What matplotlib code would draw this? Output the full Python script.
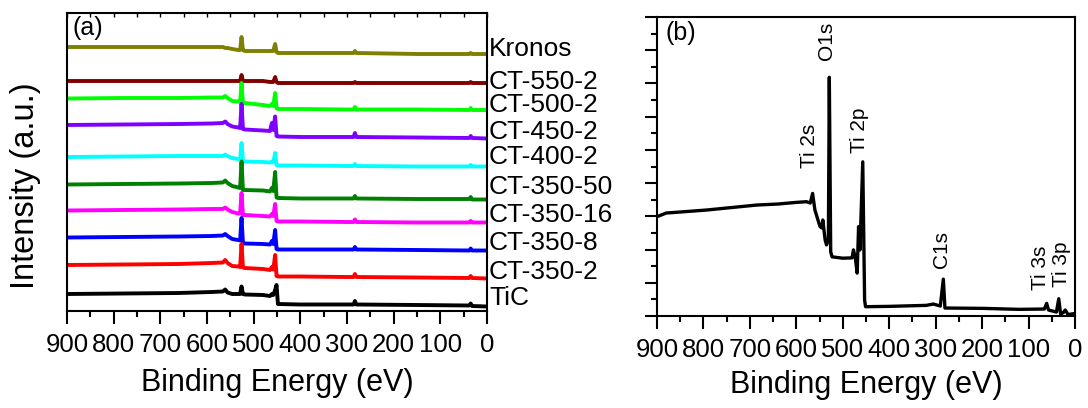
import matplotlib
matplotlib.use('Agg')
import matplotlib.pyplot as plt
from matplotlib.ticker import MultipleLocator

plt.rcParams['font.family'] = ['Liberation Sans', 'DejaVu Sans']

# ---- panel (a): stacked survey spectra (arbitrary units)
energy_a = [900, 780, 660, 590, 566, 561, 556, 546, 533, 529, 526, 523, 519, 480, 465,
            461, 458, 454, 451, 448, 400, 300, 286, 283, 280, 150, 38, 35, 32, 0]

kronos = [264, 264, 264, 264, 264, 263, 263, 262, 261, 261, 274, 261, 260, 260, 260,
          260, 260, 267, 259, 258, 258, 258, 258, 260, 258, 257, 257, 258, 257, 257]
ct_550_2 = [230, 230, 230, 230, 230, 230, 230, 230, 230, 230, 236, 230, 230, 230, 229,
            229, 229, 234, 229, 228, 228, 228, 228, 229, 228, 228, 228, 229, 228, 228]
ct_500_2 = [212.5, 213, 213, 213.5, 213.5, 215, 213, 210, 209.5, 209, 228, 208, 208, 206, 205,
            207, 205, 218, 203, 202, 202, 201.5, 201.5, 204, 201.5, 201.5, 201, 203, 201, 201]
ct_450_2 = [186, 186.5, 187, 187.5, 188, 189.5, 187, 184.5, 183.5, 183, 207, 182, 181.5, 180.5, 180,
            188, 181, 194.5, 175, 174.5, 174, 174, 174, 178, 174, 173.5, 173, 175, 173, 172.5]
ct_400_2 = [154, 154.5, 155, 155, 155, 156.5, 155, 153, 152, 152, 168, 150, 149.5, 149, 148.5,
            149.5, 148.5, 158, 146, 145.5, 145.5, 145, 145, 147, 145, 144.5, 144.5, 146, 144.5, 144.5]
ct_350_50 = [126.5, 127, 127.5, 128, 128.5, 130.5, 128, 125, 123.5, 123, 149.5, 121, 121, 120.5, 119.5,
             123, 120, 139, 113.5, 113, 112.5, 112.5, 112.5, 115, 112.5, 112, 112, 114, 111.5, 111.5]
ct_350_16 = [100.5, 101, 101.5, 102, 102, 103.5, 101.5, 99, 97.5, 97.5, 118, 96, 96, 95, 94.5,
             97, 95, 107, 90, 89.5, 89.5, 89, 89, 91.5, 89, 88.5, 88.5, 90, 88.5, 88.5]
ct_350_8 = [73.5, 74, 74.5, 75, 75.5, 77, 75, 72, 71, 70.5, 93, 68, 67.5, 67, 66.5,
            70, 67, 81, 62, 61.5, 61.5, 61.5, 61.5, 64, 61.5, 61, 60.5, 62.5, 60.5, 60.5]
ct_350_2 = [46, 46.5, 47, 48, 48.5, 51, 48, 45, 44.5, 44, 67, 43.5, 43, 42, 41,
            44, 41.5, 56, 35, 34.5, 34.5, 34, 34, 37, 34, 33.5, 33, 35, 33, 32.5]
tic = [17, 17.5, 18, 19, 19.5, 21.5, 18.5, 17, 17, 17, 24.5, 17, 16.5, 16, 15,
       17, 16, 21, 26, 7, 6.5, 6.5, 6.5, 10, 6.5, 6, 5.5, 7.5, 5, 4.5]

sample_names = ['Kronos', 'CT-550-2', 'CT-500-2', 'CT-450-2', 'CT-400-2',
                'CT-350-50', 'CT-350-16', 'CT-350-8', 'CT-350-2', 'TiC']
sample_curves = [kronos, ct_550_2, ct_500_2, ct_450_2, ct_400_2,
                 ct_350_50, ct_350_16, ct_350_8, ct_350_2, tic]
sample_colors = ['#808000', '#800000', '#00ff00', '#8000ff', '#00ffff',
                 '#008000', '#ff00ff', '#0000ff', '#ff0000', '#000000']
label_y = [262, 229, 206, 179, 154, 124, 96, 68, 39, 13]

# ---- panel (b): single survey spectrum (counts)
energy_b = [900, 880, 850, 793, 750, 685, 640, 600, 578, 570, 565, 560, 549, 545, 543,
            538, 535, 531, 529, 526, 523, 500, 480, 477, 473, 469, 466, 463, 457, 453,
            451, 400, 320, 305, 290, 283.5, 280, 200, 120, 66, 61, 57, 40, 35, 31,
            25, 21, 15, 0]
counts_b = [2990, 3100, 3130, 3190, 3250, 3340, 3370, 3420, 3440, 3400, 3690, 3190, 2690, 2650, 2890,
            2290, 2140, 2290, 7185, 1930, 1780, 1740, 1750, 1990, 1750, 1290, 2690, 1990, 4640, 480,
            280, 290, 320, 360, 300, 1110, 240, 230, 200, 210, 380, 180, 120, 520, 60,
            105, 180, 45, 75]

peak_names = ['Ti 2s', 'O1s', 'Ti 2p', 'C1s', 'Ti 3s', 'Ti 3p']
peak_x = [571, 535, 463, 287, 75, 29]
peak_y = [4450, 7700, 4900, 1450, 780, 870]

fig = plt.figure(figsize=(10.88, 4.08), dpi=100)

# panel (a)
ax1 = fig.add_axes([67 / 1088, (408 - 311) / 408, 420 / 1088, 298 / 408])
for curve, color in zip(sample_curves, sample_colors):
    ax1.plot(energy_a, curve, color=color, lw=2.8)
ax1.set_xlim(900, 0)
ax1.set_ylim(0, 298)
ax1.set_yticks([])
ax1.xaxis.set_major_locator(MultipleLocator(100))
ax1.xaxis.set_minor_locator(MultipleLocator(50))
ax1.tick_params(axis='x', which='major', direction='out', length=9, width=1.5,
                labelsize=18.5, pad=7)
ax1.tick_params(axis='x', which='minor', direction='out', length=4.5, width=1.5)
for sp in ax1.spines.values():
    sp.set_linewidth(1.5)
top = ax1.secondary_xaxis('top')
top.xaxis.set_major_locator(MultipleLocator(50))
top.tick_params(direction='in', length=3, width=1, labeltop=False)
for sp in top.spines.values():
    sp.set_visible(False)
ax1.set_xlabel('Binding Energy (eV)', fontsize=22)
ax1.xaxis.set_label_coords(0.5, -0.19)
ax1.set_ylabel('Intensity (a.u.)', fontsize=23.5)
ax1.yaxis.set_label_coords(-0.062, 0.42)
ax1.text(0.012, 0.99, '(a)', transform=ax1.transAxes, fontsize=18, va='top', ha='left')
for name, yl in zip(sample_names, label_y):
    ax1.text(1.005, yl, name, transform=ax1.get_yaxis_transform(), fontsize=19,
             va='center', ha='left')

# panel (b)
ax2 = fig.add_axes([657 / 1088, (408 - 316) / 408, 418 / 1088, 299 / 408])
ax2.plot(energy_b, counts_b, color='black', lw=2.4)
ax2.set_xlim(900, 0)
ax2.set_ylim(0, 9000)
ax2.xaxis.set_major_locator(MultipleLocator(100))
ax2.xaxis.set_minor_locator(MultipleLocator(50))
ax2.yaxis.set_major_locator(MultipleLocator(1000))
ax2.yaxis.set_minor_locator(MultipleLocator(500))
ax2.tick_params(which='major', direction='out', length=9, width=1.5, labelsize=18.5, pad=7)
ax2.tick_params(which='minor', direction='out', length=4.5, width=1.5)
ax2.tick_params(axis='y', labelleft=False)
for sp in ax2.spines.values():
    sp.set_linewidth(1.5)
ax2.set_xlabel('Binding Energy (eV)', fontsize=22)
ax2.xaxis.set_label_coords(0.5, -0.18)
ax2.text(0.02, 0.985, '(b)', transform=ax2.transAxes, fontsize=18, va='top', ha='left')
for name, px, py in zip(peak_names, peak_x, peak_y):
    ax2.text(px, py, name, rotation=90, fontsize=15, ha='center', va='bottom')

fig.savefig('out.png', dpi=100)
